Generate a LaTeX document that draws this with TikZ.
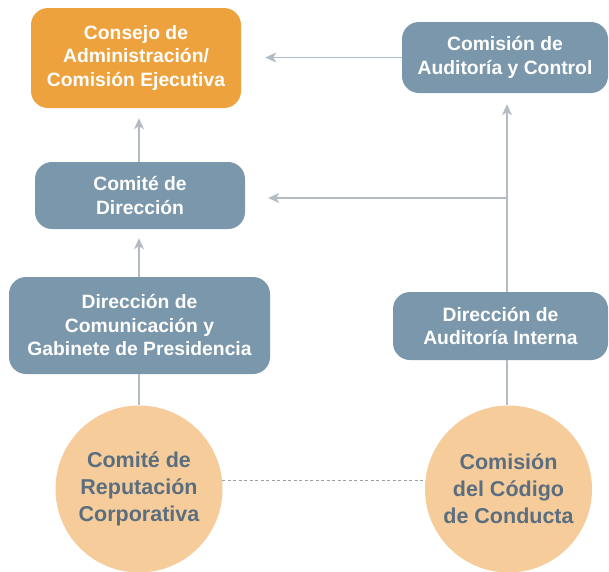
\documentclass[tikz,border=0pt]{standalone}
\usepackage{fontspec}
\setmainfont{Liberation Sans}
\usetikzlibrary{positioning,arrows.meta}
\definecolor{naranja}{HTML}{EEA23E}
\definecolor{pizarra}{HTML}{7A97AB}
\definecolor{crema}{HTML}{F6CD9A}
\definecolor{textocirc}{HTML}{5B6E80}
\definecolor{linea}{HTML}{B3BCC5}

\begin{document}
\begin{tikzpicture}[x=1pt,y=-1pt,
    caja/.style={rectangle, rounded corners=17pt, fill=pizarra, text=white, align=center,
      font=\fontsize{19.3}{23.5}\selectfont\bfseries, inner sep=0pt},
    circulo/.style={circle, fill=crema, text=textocirc, align=center, minimum size=167pt,
      font=\fontsize{21.5}{27}\selectfont\bfseries, inner sep=0pt},
    flecha/.style={draw=linea, line width=1.3pt, -{Stealth[length=11pt,width=10pt,inset=3pt]}},
    linea/.style={draw=linea, line width=1.3pt}]
  \useasboundingbox (0,0) rectangle (609,571);

	\node (cons) [caja, fill=naranja, minimum width=210pt, minimum height=100pt] at (136,58)
	  {Consejo de\\Administración/\\Comisión Ejecutiva};
	\node (comdir) [caja, minimum width=210pt, minimum height=67pt] at (140,195.5)
	  {Comité de\\Dirección};
	\node (dircom) [caja, minimum width=261pt, minimum height=97pt] at (139.5,325.5)
	  {Dirección de\\Comunicación y\\Gabinete de Presidencia};
	\node (rep) [circulo] at (139,489) {Comité de\\Reputación\\Corporativa};

	\node (cac) [caja, minimum width=206pt, minimum height=71pt] at (505,57.5)
	  {Comisión de\\Auditoría y Control};
	\node (dai) [caja, minimum width=215pt, minimum height=68pt] at (500.5,326)
	  {Dirección de\\Auditoría Interna};
	\node (cod) [circulo] at (508.5,489) {Comisión\\del Código\\de Conducta};
    \coordinate (j) at (507,198);

    \draw [flecha, shorten >=10pt] (comdir.north -| 139,0) -- (cons.south -| 139,0);
    \draw [flecha, shorten >=9pt] (dircom.north -| 139,0) -- (comdir.south -| 139,0);
    \draw [linea] (dircom.south -| rep.north) -- (rep.north);
    \draw [flecha, shorten >=24pt] (cac.west) -- (cons.east |- cac.west);
    \draw [flecha, shorten >=11pt] (dai.north -| j) -- (cac.south -| j);
    \draw [flecha, shorten >=23pt] (j) -- (comdir.east |- j);
    \draw [linea] (dai.south -| j) -- (cod.north -| j);
    \draw [draw=linea!85!black, line width=1pt, dash pattern=on 3pt off 2.5pt] (rep.6) -- (cod.174);
\end{tikzpicture}
\end{document}
